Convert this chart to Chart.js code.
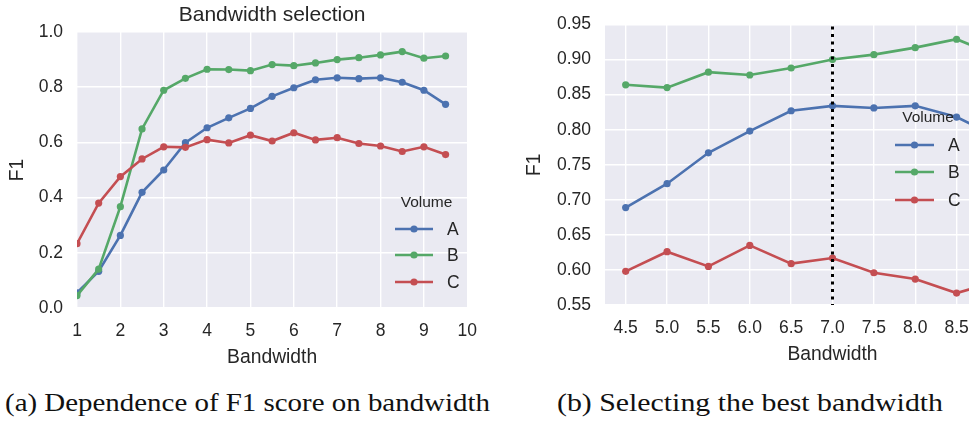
<!DOCTYPE html>
<html><head><meta charset="utf-8">
<script src="https://cdn.jsdelivr.net/npm/chart.js@4/dist/chart.umd.min.js"></script>
<style>
html,body{margin:0;padding:0;width:969px;height:422px;overflow:hidden;background:#fff;}
#wa{position:absolute;left:0;top:0;width:490px;height:372px;}
#wb{position:absolute;left:500px;top:0;width:575px;height:369px;}
canvas{display:block;}
.cap{position:absolute;font-family:"Liberation Serif","Times New Roman",serif;font-size:26px;color:#111;white-space:nowrap;transform-origin:0 50%;line-height:30px;}
</style></head><body>
<div id="wa"><canvas id="ca" width="490" height="372"></canvas></div>
<div id="wb"><canvas id="cb" width="575" height="369"></canvas></div>
<div class="cap" id="capa" style="left:5px;top:388px">(a) Dependence of F1 score on bandwidth</div>
<div class="cap" id="capb" style="left:557px;top:388px">(b) Selecting the best bandwidth</div>
<script>
// ---- data ----
const bandwidth = [1, 1.5, 2, 2.5, 3, 3.5, 4, 4.5, 5, 5.5, 6, 6.5, 7, 7.5, 8, 8.5, 9, 9.5];
const volA = [0.055, 0.133, 0.263, 0.419, 0.500, 0.599, 0.653, 0.689, 0.723, 0.767, 0.798, 0.827, 0.834, 0.831, 0.834, 0.818, 0.789, 0.738];
const volB = [0.045, 0.141, 0.367, 0.649, 0.789, 0.832, 0.865, 0.864, 0.860, 0.882, 0.878, 0.888, 0.900, 0.907, 0.917, 0.929, 0.905, 0.913];
const volC = [0.233, 0.380, 0.476, 0.540, 0.584, 0.582, 0.610, 0.598, 0.626, 0.605, 0.635, 0.609, 0.617, 0.596, 0.587, 0.567, 0.584, 0.556];
const seriesNames = ['A', 'B', 'C'];
const legendTitle = 'Volume';
const leftTitle = 'Bandwidth selection';
const xTitle = 'Bandwidth';
const yTitle = 'F1';
const leftXTicks = [1, 2, 3, 4, 5, 6, 7, 8, 9, 10];
const leftYTicks = [0.0, 0.2, 0.4, 0.6, 0.8, 1.0];
const rightXTicks = [4.5, 5.0, 5.5, 6.0, 6.5, 7.0, 7.5, 8.0, 8.5, 9.0, 9.5];
const rightYTicks = [0.55, 0.60, 0.65, 0.70, 0.75, 0.80, 0.85, 0.90, 0.95];
const rightMinBandwidth = 4.5;
const bestBandwidth = 7.0;

// ---- styles ----
const COLORS = ['#4C72B0', '#55A868', '#C44E52'];
const TEXT = '#262626';
const FONT = '"Liberation Sans", Arial, sans-serif';

function pts(vals, minX){
  return bandwidth.map((x,i)=>({x:x, y:vals[i]})).filter(p => p.x >= minX);
}
function makeDatasets(minX){
  return [volA, volB, volC].map((v,i)=>({
    label: seriesNames[i], data: pts(v, minX), borderColor: COLORS[i], backgroundColor: COLORS[i],
    borderWidth: 2.6, pointRadius: 3.6, pointHoverRadius: 3.6, pointBorderWidth: 0,
    tension: 0, order: 3 - i
  }));
}

const bgPlugin = {
  id: 'bg',
  beforeDraw(chart){
    const {ctx, chartArea:a} = chart;
    ctx.save(); ctx.fillStyle = '#EAEAF2';
    ctx.fillRect(a.left, a.top, a.right - a.left, a.bottom - a.top);
    ctx.restore();
  }
};

const legendPlugin = {
  id: 'vlegend',
  afterDraw(chart, args, o){
    if (!o || !o.show) return;
    const ctx = chart.ctx;
    ctx.save();
    ctx.fillStyle = TEXT;
    ctx.font = '15.5px ' + FONT;
    ctx.textAlign = 'center'; ctx.textBaseline = 'middle';
    ctx.fillText(legendTitle, o.titleX, o.titleY);
    seriesNames.forEach((n,i)=>{
      const y = o.rows[i];
      ctx.strokeStyle = COLORS[i]; ctx.lineWidth = 2.6;
      ctx.beginPath(); ctx.moveTo(o.x0, y); ctx.lineTo(o.x1, y); ctx.stroke();
      ctx.fillStyle = COLORS[i];
      ctx.beginPath(); ctx.arc((o.x0 + o.x1)/2, y, 3.6, 0, Math.PI*2); ctx.fill();
      ctx.fillStyle = TEXT; ctx.font = '17.5px ' + FONT; ctx.textAlign = 'left';
      ctx.fillText(n, o.labelX, y + 1);
      ctx.textAlign = 'center'; ctx.font = '15.5px ' + FONT;
    });
    ctx.restore();
  }
};

const titlePlugin = {
  id: 'ctitle',
  afterDraw(chart, args, o){
    if (!o || !o.text) return;
    const {ctx, chartArea:a} = chart;
    ctx.save(); ctx.fillStyle = TEXT; ctx.font = '21px ' + FONT;
    ctx.textAlign = 'center'; ctx.textBaseline = 'middle';
    ctx.fillText(o.text, (a.left + a.right)/2, o.y);
    ctx.restore();
  }
};

const vlinePlugin = {
  id: 'vline',
  afterDatasetsDraw(chart, args, o){
    if (!o || o.value === undefined) return;
    const {ctx, chartArea:a, scales} = chart;
    const x = scales.x.getPixelForValue(o.value);
    ctx.save(); ctx.strokeStyle = '#000'; ctx.lineWidth = 3;
    ctx.setLineDash([3, 4.5]);
    ctx.beginPath(); ctx.moveTo(x, a.top + 2); ctx.lineTo(x, a.bottom); ctx.stroke();
    ctx.restore();
  }
};

function makeChart(id, cfg){
  return new Chart(document.getElementById(id), {
    type: 'line',
    data: { datasets: makeDatasets(cfg.dataMin) },
    plugins: [bgPlugin, legendPlugin, titlePlugin, vlinePlugin],
    options: {
      responsive: false, animation: false, devicePixelRatio: 1,
      layout: { padding: cfg.padding },
      plugins: {
        legend: { display: false }, tooltip: { enabled: false },
        vlegend: cfg.legend, ctitle: cfg.title || {}, vline: cfg.vline || {}
      },
      scales: {
        x: {
          type: 'linear', min: cfg.xMin, max: cfg.xMax,
          afterBuildTicks: s => { s.ticks = cfg.xTicks.map(v => ({value: v})); },
          afterFit: s => { s.height = cfg.xAxisH; },
          ticks: { callback: v => cfg.xFmt(v), font: {family: FONT, size: 17.5}, color: TEXT, padding: 13, maxRotation: 0, autoSkip: false },
          grid: { color: '#ffffff', lineWidth: 1.4, drawTicks: false },
          border: { display: false },
          title: { display: true, text: xTitle, color: TEXT, font: {family: FONT, size: 19.3}, padding: {top: 0, bottom: 3} }
        },
        y: {
          type: 'linear', min: cfg.yMin, max: cfg.yMax,
          afterBuildTicks: s => { s.ticks = cfg.yTicks.map(v => ({value: v})); },
          afterFit: s => { s.width = cfg.yAxisW; },
          ticks: { callback: v => cfg.yFmt(v), font: {family: FONT, size: 17.5}, color: TEXT, padding: 14, autoSkip: false },
          grid: { color: '#ffffff', lineWidth: 1.4, drawTicks: false },
          border: { display: false },
          title: { display: true, text: yTitle, color: TEXT, font: {family: FONT, size: 19.3}, padding: {top: cfg.yTitlePad, bottom: 0} }
        }
      }
    }
  });
}

makeChart('ca', {
  padding: {left: 0, right: 16, top: 32, bottom: 0},
  dataMin: bandwidth[0],
  xMin: 1, xMax: 10, xTicks: leftXTicks, xFmt: v => String(v),
  yMin: 0, yMax: 1, yTicks: leftYTicks, yFmt: v => v.toFixed(1),
  xAxisH: 64, yAxisW: 77, yTitlePad: 6,
  title: { text: leftTitle, y: 15 },
  legend: { show: true, titleX: 426.5, titleY: 203, x0: 395, x1: 433, rows: [229, 255, 282], labelX: 447 }
});

makeChart('cb', {
  padding: {left: 0, right: 15, top: 16, bottom: 0},
  dataMin: rightMinBandwidth,
  xMin: 4.25, xMax: 9.75, xTicks: rightXTicks, xFmt: v => v.toFixed(1),
  yMin: 0.55, yMax: 0.95, yTicks: rightYTicks, yFmt: v => v.toFixed(2),
  xAxisH: 64, yAxisW: 105, yTitlePad: 23.5,
  vline: { value: bestBandwidth },
  legend: { show: true, titleX: 428, titleY: 118, x0: 395, x1: 434, rows: [145, 172, 200], labelX: 448 }
});

function fitCaption(id, w){
  const el = document.getElementById(id);
  const nat = el.getBoundingClientRect().width;
  el.style.transform = 'scaleX(' + (w / nat) + ')';
}
fitCaption('capa', 485);
fitCaption('capb', 386);
</script>
</body></html>
